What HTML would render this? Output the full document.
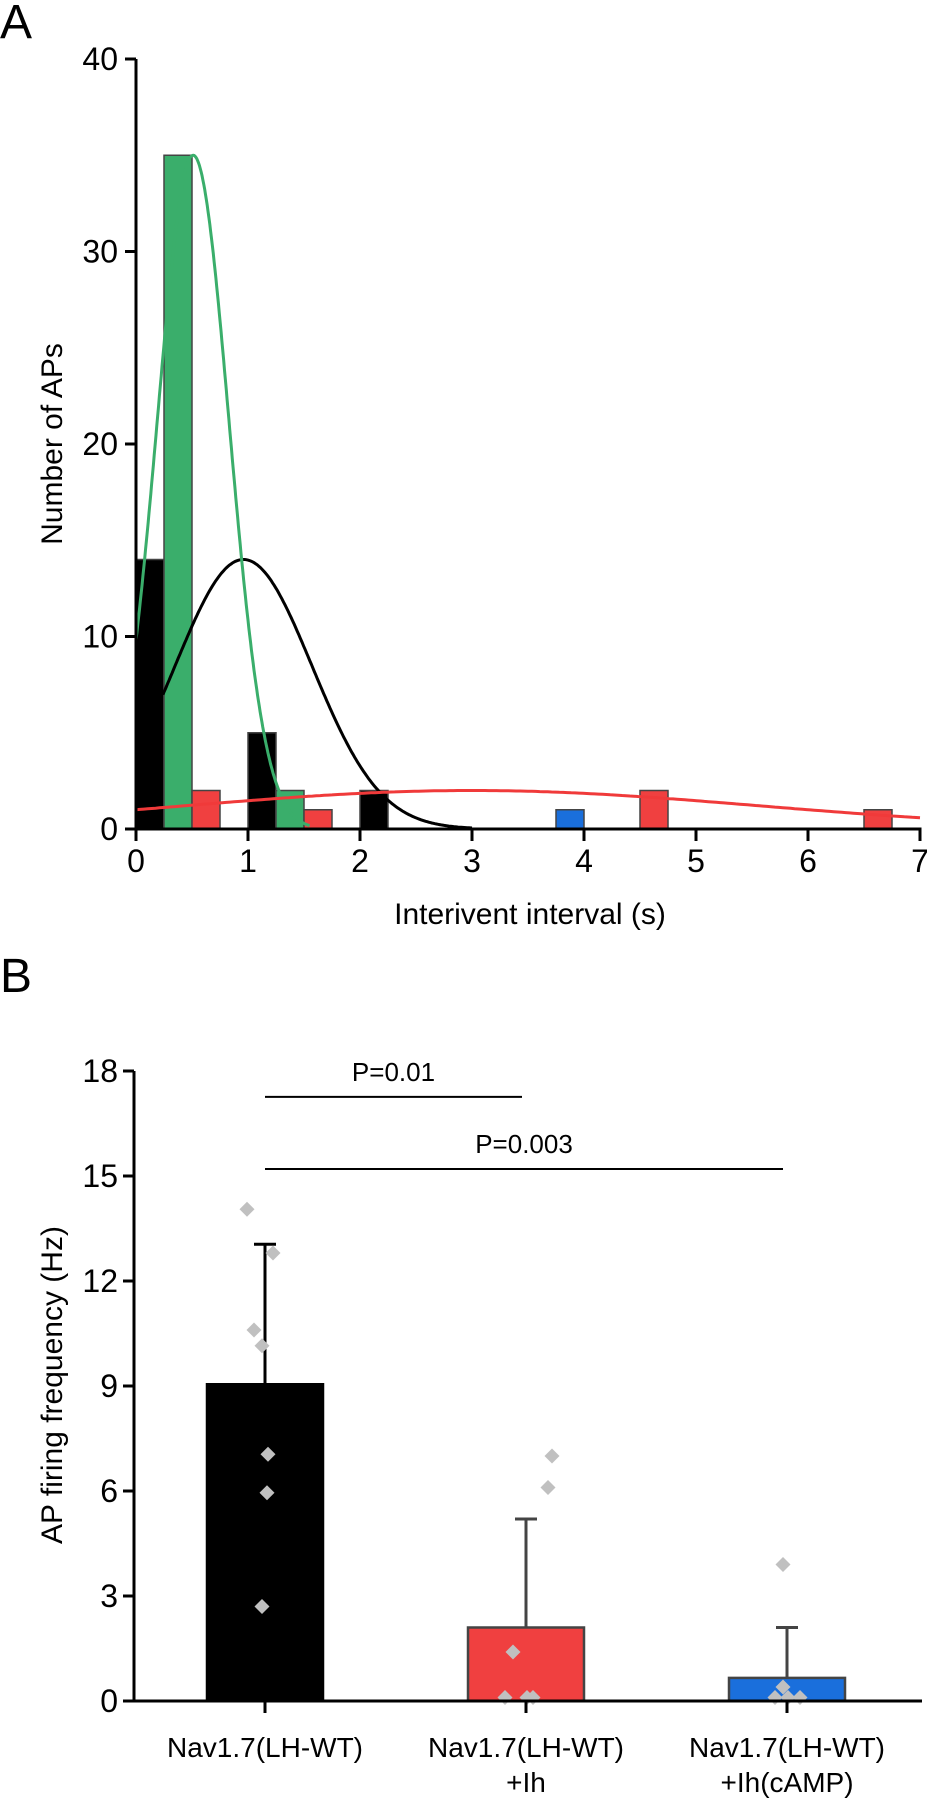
<!DOCTYPE html>
<html><head><meta charset="utf-8"><style>
html,body{margin:0;padding:0;background:#fff;}
svg{display:block;font-family:"Liberation Sans",Arial,sans-serif;}
</style></head><body>
<svg id="fig" width="927" height="1800" viewBox="0 0 927 1800">
<text x="0" y="38" font-size="48">A</text>
<text x="0" y="992" font-size="48">B</text>
<g id="pa"></g>
<g id="pb"></g>
</svg>
<script>
// ---- Panel A data ----
const binStarts = [0, 0.25, 0.5, 1.0, 1.25, 1.5, 2.0, 3.75, 4.5, 6.5];
const binCounts = [14, 35, 2, 5, 2, 1, 2, 1, 2, 1];
const binGroups = ['black','green','red','black','green','red','black','blue','red','red'];
const xTicksA = [0,1,2,3,4,5,6,7];
const yTicksA = [0,10,20,30,40];
const fitAmp = [14, 35, 2];
const fitMean = [0.96, 0.51, 3.0];
const fitSd = [0.61, 0.32, 2.55];
const fitFrom = [0.24, 0, 0];
const fitTo = [3.0, 1.55, 7];
const fitGroups = ['black','green','red'];
// ---- Panel B data ----
const categories = [['Nav1.7(LH-WT)'],['Nav1.7(LH-WT)','+Ih'],['Nav1.7(LH-WT)','+Ih(cAMP)']];
const means = [9.05, 2.1, 0.66];
const sds = [4.0, 3.1, 1.44];
const points1 = [14.05, 12.8, 10.6, 10.15, 7.05, 5.95, 2.7];
const points2 = [7.0, 6.1, 1.4, 0.1, 0.1, 0.1];
const points3 = [3.9, 0.4, 0.1, 0.1, 0.1];
const yTicksB = [0,3,6,9,12,15,18];
const sigLabels = ['P=0.01','P=0.003'];
const sigFrom = [0, 0];
const sigTo = [1, 2];
const sigY = [17.26, 15.2];

const NS='http://www.w3.org/2000/svg';
function mk(parent, tag, attrs){const e=document.createElementNS(NS,tag);for(const k in attrs)e.setAttribute(k,attrs[k]);parent.appendChild(e);return e;}
const colors={black:'#000',green:'#3aae6b',red:'#f04040',blue:'#1a6fdc'};
const lineColors={black:'#000',green:'#3aae6b',red:'#f03a3a'};

// Panel A axes
const pa=document.getElementById('pa');
const ax=v=>136+v*112;
const ay=v=>829-v*19.25;
binStarts.forEach((s,i)=>{
  const r=mk(pa,'rect',{x:ax(s),y:ay(binCounts[i]),width:ax(s+0.25)-ax(s),height:ay(0)-ay(binCounts[i]),fill:colors[binGroups[i]],stroke:'#444','stroke-width':1.5});
  
  
});
fitAmp.forEach((a,i)=>{
  let d='';
  for(let k=0;k<=200;k++){const x=fitFrom[i]+(fitTo[i]-fitFrom[i])*k/200;const y=a*Math.exp(-Math.pow(x-fitMean[i],2)/(2*fitSd[i]*fitSd[i]));d+=(k?'L':'M')+ax(x).toFixed(1)+','+ay(y).toFixed(1);}
  const p=mk(pa,'path',{d:d,fill:'none',stroke:lineColors[fitGroups[i]],'stroke-width':3});
  
  
});
let yl=mk(pa,'line',{x1:136,y1:ay(40),x2:136,y2:ay(0)+1.5,stroke:'#000','stroke-width':3});


let xl=mk(pa,'line',{x1:134.5,y1:829,x2:ax(7)+1.5,y2:829,stroke:'#000','stroke-width':3});


yTicksA.forEach(v=>{
  mk(pa,'line',{x1:125,y1:ay(v),x2:136,y2:ay(v),stroke:'#000','stroke-width':3});
  const t=mk(pa,'text',{x:118,y:ay(v)+11,'font-size':32,'text-anchor':'end'});t.textContent=v;
  
  
});
xTicksA.forEach(v=>{
  mk(pa,'line',{x1:ax(v),y1:829,x2:ax(v),y2:841,stroke:'#000','stroke-width':3});
  const t=mk(pa,'text',{x:ax(v),y:872,'font-size':32,'text-anchor':'middle'});t.textContent=v;
  
  
});
let xt=mk(pa,'text',{x:530,y:924,'font-size':30,'text-anchor':'middle'});xt.textContent='Interivent interval (s)';


let yt=mk(pa,'text',{x:0,y:0,'font-size':30,'text-anchor':'middle',transform:'translate(62,444) rotate(-90)'});yt.textContent='Number of APs';



// Panel B
const pb=document.getElementById('pb');
const bx=i=>265+i*261;
const by=v=>1701-v*35;
const barFill=['#000','#f04040','#1a6fdc'];
const barStroke=['#000','#444','#444'];
means.forEach((m,i)=>{
  const e=mk(pb,'line',{x1:bx(i),y1:by(m),x2:bx(i),y2:by(m+sds[i]),stroke:i?'#444':'#000','stroke-width':3});
  
  
  mk(pb,'line',{x1:bx(i)-11,y1:by(m+sds[i]),x2:bx(i)+11,y2:by(m+sds[i]),stroke:i?'#444':'#000','stroke-width':3});
  const r=mk(pb,'rect',{x:bx(i)-58,y:by(m),width:116,height:by(0)-by(m),fill:barFill[i],stroke:barStroke[i],'stroke-width':2.5});
  
  
});
const pts=[points1,points2,points3];
const jit=[[-18,8,-11,-3,3,2,-3],[26,22,-13,-21,1,7],[-4,-4,-12,1,13]];
pts.forEach((arr,g)=>arr.forEach((v,k)=>{
  const cx=bx(g)+jit[g][k], cy=by(v);
  const p=mk(pb,'polygon',{points:`${cx},${cy-7.5} ${cx+7.5},${cy} ${cx},${cy+7.5} ${cx-7.5},${cy}`,fill:'#c0c0c0'});
  
  
}));
let yb=mk(pb,'line',{x1:134,y1:by(18),x2:134,y2:by(0)+1.5,stroke:'#000','stroke-width':3});


let xb=mk(pb,'line',{x1:123,y1:1701,x2:922,y2:1701,stroke:'#000','stroke-width':3});


yTicksB.forEach(v=>{
  mk(pb,'line',{x1:123,y1:by(v),x2:134,y2:by(v),stroke:'#000','stroke-width':3});
  const t=mk(pb,'text',{x:118,y:by(v)+11,'font-size':32,'text-anchor':'end'});t.textContent=v;
  
  
});
categories.forEach((c,i)=>{
  mk(pb,'line',{x1:bx(i),y1:1701,x2:bx(i),y2:1713,stroke:'#000','stroke-width':3});
  c.forEach((s,j)=>{
    const t=mk(pb,'text',{x:bx(i),y:1757+j*35,'font-size':28,'text-anchor':'middle'});t.textContent=s;
    
    
  });
});
sigLabels.forEach((s,i)=>{
  const x1=bx(sigFrom[i]), x2=bx(sigTo[i]);
  const l=mk(pb,'line',{x1:x1,y1:by(sigY[i]),x2:x2-4,y2:by(sigY[i]),stroke:'#000','stroke-width':2});
  
  
  const t=mk(pb,'text',{x:(x1+x2-4)/2,y:by(sigY[i])-16,'font-size':26,'text-anchor':'middle'});t.textContent=s;
  
  
});
let ybt=mk(pb,'text',{x:0,y:0,'font-size':30,'text-anchor':'middle',transform:'translate(62,1385) rotate(-90)'});ybt.textContent='AP firing frequency (Hz)';


</script>
</body></html>
